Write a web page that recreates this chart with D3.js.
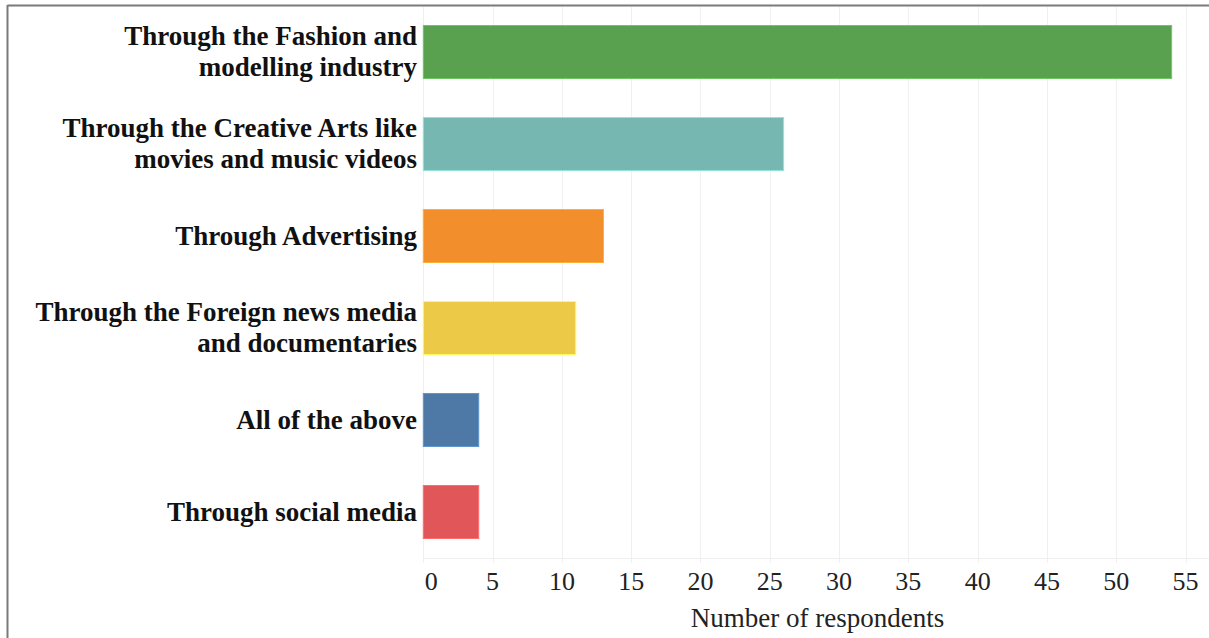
<!DOCTYPE html>
<html>
<head>
<meta charset="utf-8">
<script src="https://cdn.jsdelivr.net/npm/d3@7"></script>
<style>
  html, body { margin: 0; padding: 0; background: #fff; }
  svg { display: block; }
</style>
</head>
<body>
<svg id="chart" width="1209" height="638"></svg>
<script>
// Survey responses: channels through which the ideal is perceived
const categories = [
  "Through the Fashion and|modelling industry",
  "Through the Creative Arts like|movies and music videos",
  "Through Advertising",
  "Through the Foreign news media|and documentaries",
  "All of the above",
  "Through social media"
];
const respondents = [54, 26, 13, 11, 4, 4];
const barColors = ["#59a14f", "#76b7b2", "#f28e2b", "#edc948", "#4e79a7", "#e15759"];
const xTicks = [0, 5, 10, 15, 20, 25, 30, 35, 40, 45, 50, 55];
const xTitle = "Number of respondents";

const svg = d3.select("#chart");
const W = 1209, H = 638;
const plot = { left: 423.3, right: 1185.5, top: 6, bottom: 558 };

// Outer frame (top and left edges visible)
svg.append("line").attr("x1", 7.5).attr("x2", W).attr("y1", 5.5).attr("y2", 5.5)
  .attr("stroke", "#7a7a7a").attr("stroke-width", 2);
svg.append("line").attr("x1", 7.5).attr("x2", 7.5).attr("y1", 5).attr("y2", H)
  .attr("stroke", "#7a7a7a").attr("stroke-width", 2);

const x = d3.scaleLinear().domain([0, 55]).range([plot.left, plot.right]);
const y = d3.scaleBand().domain(categories).range([plot.top, plot.bottom])
  .paddingInner(0.424).paddingOuter(0.212);

// Vertical gridlines with short ticks below the axis
const grid = svg.append("g");
grid.selectAll("line").data(xTicks).join("line")
  .attr("x1", d => Math.round(x(d)) + 0.5).attr("x2", d => Math.round(x(d)) + 0.5)
  .attr("y1", plot.top + 1).attr("y2", plot.bottom + 5)
  .attr("stroke", "#f0f0f0").attr("stroke-width", 1);

// Baseline of the value axis
svg.append("line").attr("x1", plot.left).attr("x2", W)
  .attr("y1", plot.bottom + 0.5).attr("y2", plot.bottom + 0.5)
  .attr("stroke", "#eeeeee").attr("stroke-width", 1);

// Bars
svg.append("g").selectAll("rect").data(categories).join("rect")
  .attr("x", x(0))
  .attr("y", d => y(d))
  .attr("width", (d, i) => x(respondents[i]) - x(0))
  .attr("height", y.bandwidth())
  .attr("fill", (d, i) => barColors[i])
  .attr("stroke", (d, i) => d3.color(barColors[i]).brighter(0.6))
  .attr("stroke-width", 1);

// Category labels (right-aligned, bold serif, wrapped at '|')
const labelFont = "'Liberation Serif', 'Times New Roman', serif";
const lab = svg.append("g").selectAll("text").data(categories).join("text")
  .attr("text-anchor", "end")
  .attr("font-family", labelFont)
  .attr("font-weight", "bold")
  .attr("font-size", 27)
  .attr("fill", "#111");
lab.each(function(d) {
  const lines = d.split("|");
  const cy = y(d) + y.bandwidth() / 2;
  const lh = 31;
  const t = d3.select(this);
  lines.forEach((ln, k) => {
    t.append("tspan")
      .attr("x", 417)
      .attr("y", cy + (k - (lines.length - 1) / 2) * lh)
      .attr("dy", "0.33em")
      .text(ln);
  });
});

// Tick labels
svg.append("g").selectAll("text").data(xTicks).join("text")
  .attr("x", d => x(d) + (d === 0 ? 8 : 0))
  .attr("y", 590)
  .attr("text-anchor", "middle")
  .attr("font-family", labelFont)
  .attr("font-size", 26)
  .attr("fill", "#222")
  .text(d => d);

// Axis title
svg.append("text")
  .attr("x", 817.5).attr("y", 627)
  .attr("text-anchor", "middle")
  .attr("font-family", labelFont)
  .attr("font-size", 27)
  .attr("fill", "#222")
  .text(xTitle);
</script>
</body>
</html>
